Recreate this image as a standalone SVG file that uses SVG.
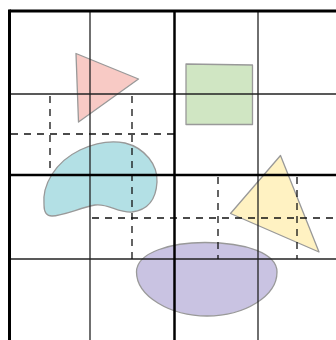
<svg xmlns="http://www.w3.org/2000/svg" width="336" height="340" viewBox="0 0 336 340">
<style>
.shape{stroke:#999;stroke-width:1.3;stroke-linejoin:round}
.thick{stroke:#000;stroke-width:3;fill:none}
.mid{stroke:#000;stroke-width:2.5;fill:none}
.thin{stroke:#222;stroke-width:1.3;fill:none}
.dash{stroke:#111;stroke-width:1.3;stroke-dasharray:7 6;fill:none}
</style>
<rect width="336" height="340" fill="#fff"/>
<g id="shapes">
<polygon id="pink-triangle" class="shape" fill="#f8cac5" points="76,53.5 138.5,79 78.5,122"/>
<polygon id="green-square" class="shape" fill="#d0e6c3" points="186,64 252.5,65 252.5,124.5 186,124.5"/>
<polygon id="yellow-triangle" class="shape" fill="#fff2c2" points="280.5,155.5 319,252 230.5,213.5"/>
<path id="blue-blob" class="shape" fill="#b3e0e5" d="M44,205 C42,185 55,162 80,150 C95,143 110,140 125,143 C145,148 158,165 157,182 C156,200 148,210 132,212 C118,213 108,203 95,205 C80,208 62,216 52,216 C46,216 44,212 44,205 Z"/>
<path id="purple-ellipse" class="shape" fill="#c9c3e2" d="M136.5,272 C136.5,252 172,242.5 205,242.5 C245,242.5 277,253 277,272 C277,296 245,316 207,316 C170,316 136.5,296 136.5,272 Z"/>
</g>
<g id="grid">
<line class="thin" x1="90" y1="11" x2="90" y2="340"/>
<line class="thin" x1="258" y1="11" x2="258" y2="340"/>
<line class="thin" x1="9" y1="94" x2="336" y2="94"/>
<line class="thin" x1="9" y1="259" x2="336" y2="259"/>
<line class="dash" x1="50" y1="96" x2="50" y2="175"/>
<line class="dash" x1="132" y1="96" x2="132" y2="259"/>
<line class="dash" x1="11" y1="134" x2="175" y2="134"/>
<line class="dash" x1="92" y1="218" x2="336" y2="218"/>
<line class="dash" x1="218" y1="177" x2="218" y2="259"/>
<line class="dash" x1="297" y1="177" x2="297" y2="259"/>
<line class="mid" x1="174.5" y1="11" x2="174.5" y2="340"/>
<line class="mid" x1="9" y1="175" x2="336" y2="175"/>
<line class="thick" x1="9.5" y1="11" x2="336" y2="11"/>
<line class="thick" x1="9.5" y1="9.5" x2="9.5" y2="340"/>
</g>
</svg>
